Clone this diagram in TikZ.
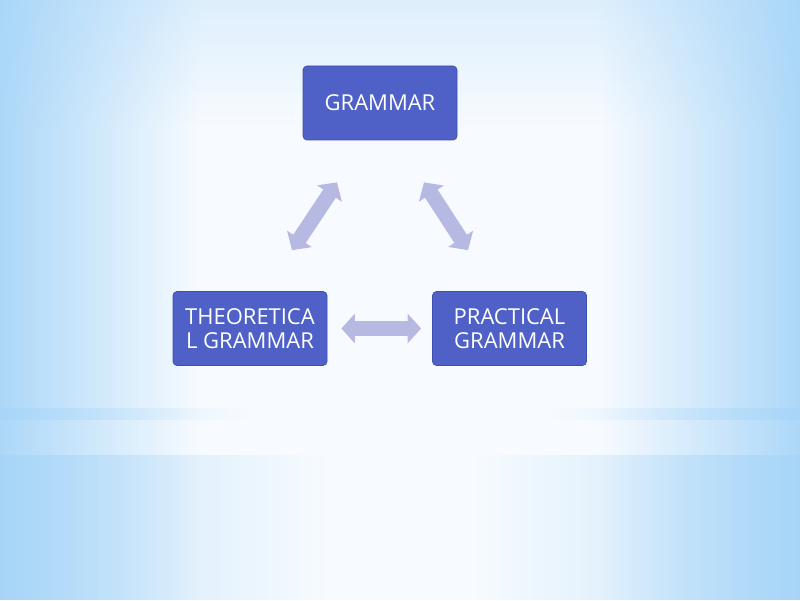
\documentclass[tikz,border=0pt]{standalone}
\usepackage{fontspec}
\setmainfont{Open Sans}
\usetikzlibrary{arrows.meta,fadings}

\definecolor{bgblue}{RGB}{164,212,248}
\definecolor{bgwhite}{RGB}{247,251,255}
\definecolor{boxblue}{RGB}{79,97,199}
\definecolor{boxedge}{RGB}{62,78,176}
\definecolor{arrowgray}{RGB}{182,186,226}

\tikzset{
  topicbox/.style={draw=boxedge, fill=boxblue, rounded corners=0.08cm, thin,
    minimum width=3.08cm, minimum height=1.48cm, align=center,
    text=white, font=\fontsize{12.5}{13.6}\selectfont},
  dblarrow/.style={draw=arrowgray, line width=0.3cm,
    {Triangle[width=0.58cm,length=0.27cm]}-{Triangle[width=0.58cm,length=0.27cm]}}
}

\begin{document}
\begin{tikzpicture}
  \useasboundingbox (0,0) rectangle (16,12);
  % background
  \fill[bgwhite] (0,0) rectangle (16,12);
  \fill[bgblue, path fading=south, opacity=0.3] (0,9.5) rectangle (16,12);
  \fill[bgblue, path fading=east, opacity=0.9] (0,0) rectangle (4,12);
  \fill[bgblue, path fading=west, opacity=0.9] (12,0) rectangle (16,12);
  \fill[bgblue, path fading=east, opacity=0.6] (0,0) rectangle (6.5,2.9);
  \fill[bgblue, path fading=west, opacity=0.6] (9.5,0) rectangle (16,2.9);
  \fill[bgblue, path fading=east, opacity=0.5] (0,3.6) rectangle (5,3.84);
  \fill[bgblue, path fading=west, opacity=0.5] (11,3.6) rectangle (16,3.84);

  \node[topicbox] (gram) at (7.6,9.94) {GRAMMAR};
  \node[topicbox] (theo) at (5.0,5.43) {THEORETICA\\L GRAMMAR};
  \node[topicbox] (prac) at (10.19,5.43) {PRACTICAL\\GRAMMAR};

  \draw[dblarrow] ([shift={(-0.86,-0.84)}]gram.south) -- ([shift={(0.84,0.82)}]theo.north);
  \draw[dblarrow] ([shift={(0.88,-0.84)}]gram.south) -- ([shift={(-0.83,0.82)}]prac.north);
  \draw[dblarrow, shorten <=0.28cm, shorten >=0.22cm] (theo.east) -- (prac.west);
\end{tikzpicture}
\end{document}
